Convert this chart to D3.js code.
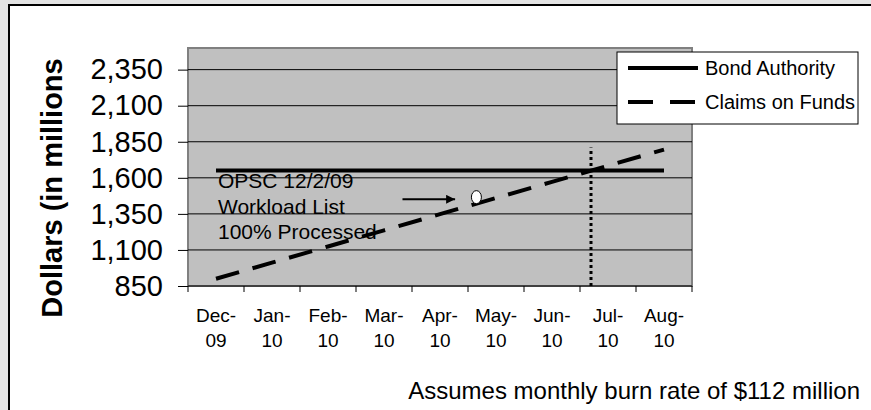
<!DOCTYPE html>
<html>
<head>
<meta charset="utf-8">
<script src="https://cdn.jsdelivr.net/npm/d3@7"></script>
<style>
  body { margin: 0; background: #e3e3e3; }
  svg { display: block; font-family: "Liberation Sans", Arial, sans-serif; }
</style>
</head>
<body>
<div id="chart"></div>
<script>
const monthTop = ["Dec-", "Jan-", "Feb-", "Mar-", "Apr-", "May-", "Jun-", "Jul-", "Aug-"];
const monthBottom = ["09", "10", "10", "10", "10", "10", "10", "10", "10"];
const bondAuthority = [1650, 1650, 1650, 1650, 1650, 1650, 1650, 1650, 1650];
const claimsOnFunds = [900, 1012, 1124, 1236, 1348, 1460, 1572, 1684, 1796];
const yTicks = [850, 1100, 1350, 1600, 1850, 2100, 2350];
const noteLines = ["OPSC 12/2/09", "Workload List", "100% Processed"];
// marker / arrow positions in month-index units
const markerPoint = { idx: 4.65, value: 1466 };
const arrowFrom = { idx: 3.33, value: 1451 };
const arrowTo = { idx: 4.27, value: 1451 };
const crossTop = 1810;

const W = 871, H = 410;
const plot = { left: 188, right: 692, top: 48, bottom: 286 };

const svg = d3.select("#chart").append("svg")
  .attr("width", W)
  .attr("height", H);

svg.append("rect")
  .attr("x", 9).attr("y", 5)
  .attr("width", W).attr("height", H)
  .attr("fill", "#fff")
  .attr("stroke", "#000")
  .attr("stroke-width", 2);

const x = d3.scaleBand()
  .domain(d3.range(monthTop.length))
  .range([plot.left, plot.right])
  .padding(0);

const xi = d3.scaleLinear()
  .domain([0, monthTop.length - 1])
  .range([x(0) + x.bandwidth() / 2, x(monthTop.length - 1) + x.bandwidth() / 2]);

const y = d3.scaleLinear()
  .domain([850, 2500])
  .range([plot.bottom, plot.top]);

// plot area
svg.append("rect")
  .attr("x", plot.left).attr("y", plot.top)
  .attr("width", plot.right - plot.left)
  .attr("height", plot.bottom - plot.top)
  .attr("fill", "#c0c0c0")
  .attr("stroke", "#808080")
  .attr("stroke-width", 2);

// gridlines
svg.append("g")
  .selectAll("line")
  .data(yTicks.slice(1))
  .enter().append("line")
  .attr("x1", plot.left).attr("x2", plot.right)
  .attr("y1", d => y(d)).attr("y2", d => y(d))
  .attr("stroke", "#000")
  .attr("stroke-width", 1);

// y axis
const yAxis = svg.append("g")
  .attr("transform", `translate(${plot.left},0)`)
  .call(d3.axisLeft(y).tickValues(yTicks).tickSize(10).tickPadding(15).tickFormat(d3.format(",")));
yAxis.select(".domain").remove();
yAxis.selectAll("text")
  .attr("font-size", 29)
  .attr("font-family", "Liberation Sans, Arial, sans-serif")
  .attr("fill", "#000");
yAxis.selectAll("line").attr("stroke", "#000");

// x axis
const xAxis = svg.append("g")
  .attr("transform", `translate(0,${plot.bottom})`);
xAxis.append("line")
  .attr("x1", plot.left).attr("x2", plot.right)
  .attr("stroke", "#000");
xAxis.selectAll(".tick")
  .data(d3.range(monthTop.length + 1))
  .enter().append("line")
  .attr("class", "tick")
  .attr("x1", d => plot.left + d * x.bandwidth())
  .attr("x2", d => plot.left + d * x.bandwidth())
  .attr("y1", 0).attr("y2", 6)
  .attr("stroke", "#000");
const xLabels = xAxis.selectAll(".lbl")
  .data(monthTop)
  .enter().append("text")
  .attr("class", "lbl")
  .attr("text-anchor", "middle")
  .attr("font-size", 19)
  .attr("fill", "#000");
xLabels.append("tspan")
  .attr("x", (d, i) => x(i) + x.bandwidth() / 2)
  .attr("y", 36)
  .text(d => d);
xLabels.append("tspan")
  .attr("x", (d, i) => x(i) + x.bandwidth() / 2)
  .attr("y", 61)
  .text((d, i) => monthBottom[i]);

// series
const line = d3.line().x((d, i) => xi(i)).y(d => y(d));

svg.append("path")
  .datum(bondAuthority)
  .attr("fill", "none")
  .attr("stroke", "#000")
  .attr("stroke-width", 4)
  .attr("d", line);

svg.append("path")
  .datum(claimsOnFunds)
  .attr("fill", "none")
  .attr("stroke", "#000")
  .attr("stroke-width", 4)
  .attr("stroke-dasharray", "24,14")
  .attr("d", line);

// crossing point of the two series
const crossIdx = (bondAuthority[0] - claimsOnFunds[0]) / (claimsOnFunds[1] - claimsOnFunds[0]);
svg.append("line")
  .attr("x1", xi(crossIdx)).attr("x2", xi(crossIdx))
  .attr("y1", y(850)).attr("y2", y(crossTop))
  .attr("stroke", "#000")
  .attr("stroke-width", 3)
  .attr("stroke-dasharray", "3,3");

// annotation
svg.append("defs").append("marker")
  .attr("id", "arrow")
  .attr("viewBox", "0 0 10 10")
  .attr("refX", 10).attr("refY", 5)
  .attr("markerWidth", 4.5).attr("markerHeight", 4.5)
  .attr("orient", "auto")
  .append("path")
  .attr("d", "M0,0L10,5L0,10z")
  .attr("fill", "#000");

svg.append("line")
  .attr("x1", xi(arrowFrom.idx)).attr("y1", y(arrowFrom.value))
  .attr("x2", xi(arrowTo.idx)).attr("y2", y(arrowTo.value))
  .attr("stroke", "#000")
  .attr("stroke-width", 2)
  .attr("marker-end", "url(#arrow)");

svg.append("ellipse")
  .attr("cx", xi(markerPoint.idx)).attr("cy", y(markerPoint.value))
  .attr("rx", 5).attr("ry", 6.5)
  .attr("fill", "#fff")
  .attr("stroke", "#000")
  .attr("stroke-width", 1);

svg.append("g")
  .selectAll("text")
  .data(noteLines)
  .enter().append("text")
  .attr("x", 218)
  .attr("y", (d, i) => 188 + i * 25.5)
  .attr("font-size", 21)
  .attr("fill", "#000")
  .text(d => d);

// legend
const legend = svg.append("g").attr("transform", "translate(617,52)");
legend.append("rect")
  .attr("width", 241).attr("height", 72)
  .attr("fill", "#fff")
  .attr("stroke", "#000")
  .attr("stroke-width", 1);
const legendItems = [
  { name: "Bond Authority", dash: null },
  { name: "Claims on Funds", dash: "25,17" }
];
const li = legend.selectAll(".item")
  .data(legendItems)
  .enter().append("g")
  .attr("class", "item")
  .attr("transform", (d, i) => `translate(0,${16 + i * 34})`);
li.append("line")
  .attr("x1", 11).attr("x2", 81)
  .attr("stroke", "#000")
  .attr("stroke-width", 4)
  .attr("stroke-dasharray", d => d.dash);
li.append("text")
  .attr("x", 88)
  .attr("y", 7)
  .attr("font-size", 20)
  .attr("fill", "#000")
  .text(d => d.name);

// y title
svg.append("text")
  .attr("transform", "translate(52,188) rotate(-90)")
  .attr("text-anchor", "middle")
  .attr("dominant-baseline", "central")
  .attr("font-size", 29)
  .attr("font-weight", "bold")
  .attr("fill", "#000")
  .text("Dollars (in millions");

// footnote
svg.append("text")
  .attr("x", 860)
  .attr("y", 399)
  .attr("text-anchor", "end")
  .attr("font-size", 24)
  .attr("fill", "#000")
  .text("Assumes monthly burn rate of $112 million");
</script>
</body>
</html>
